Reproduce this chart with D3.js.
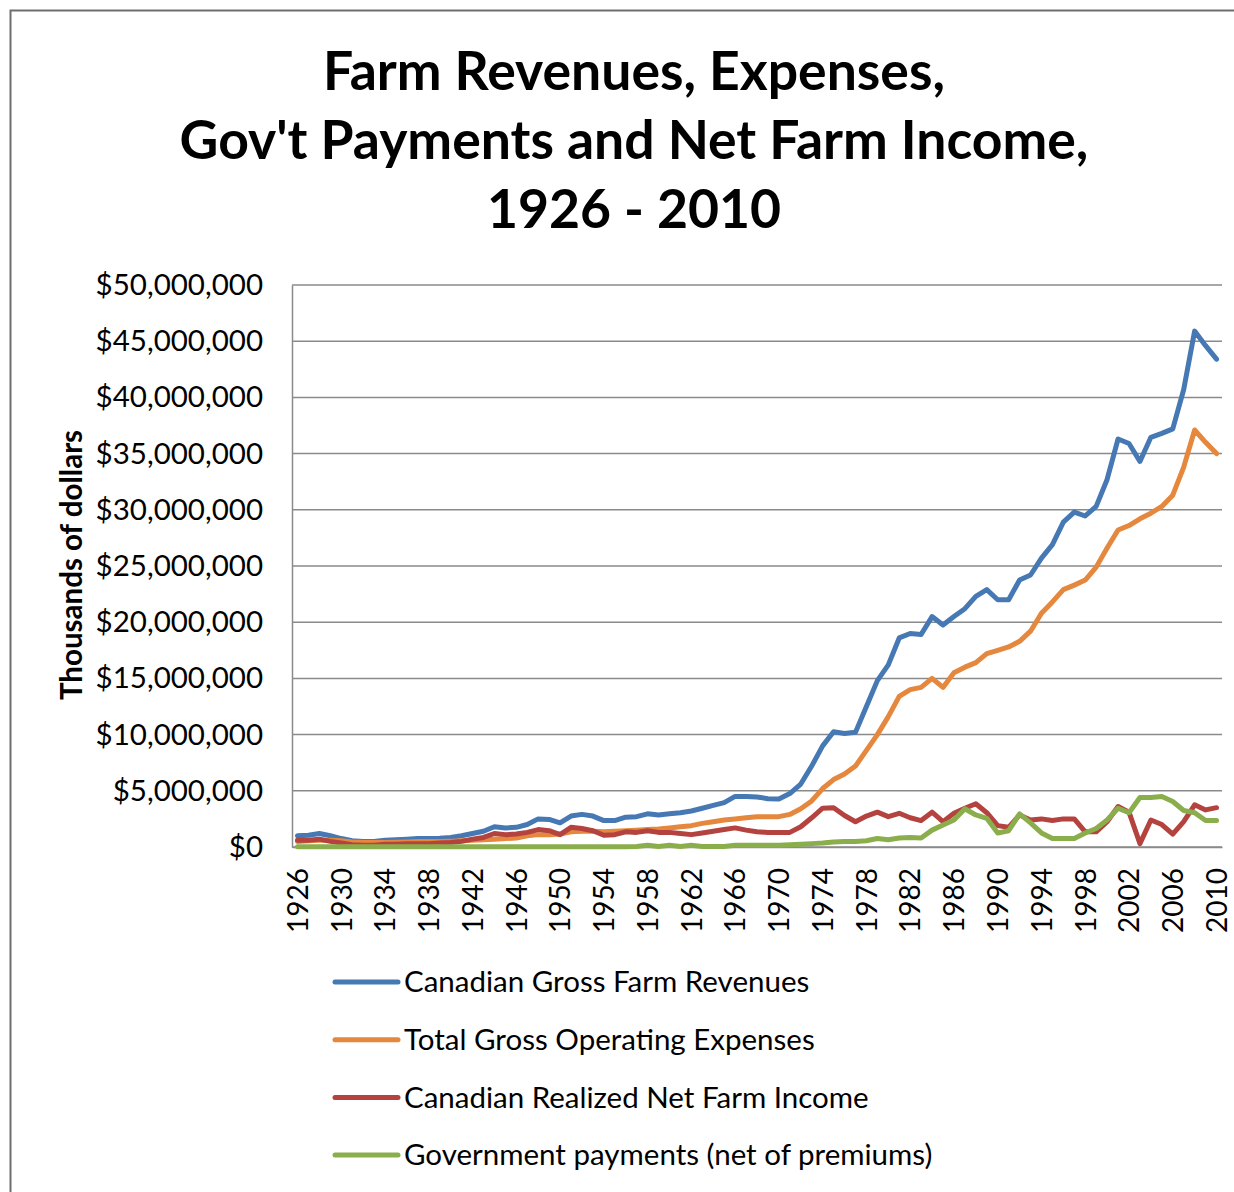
<!DOCTYPE html>
<html>
<head>
<meta charset="utf-8">
<script src="https://cdn.jsdelivr.net/npm/d3@7"></script>
<style>
  html, body { margin: 0; padding: 0; background: #fff; }
  svg { display: block; }
  text { font-family: Lato, "Open Sans", sans-serif; fill: #000; }
</style>
</head>
<body>
<svg id="chart" width="1234" height="1192"></svg>
<script>
// Years 1926..2010
const years = d3.range(1926, 2011);

// Values in millions of "thousands of dollars" (i.e. 1.0 = $1,000,000 on the axis)
const grossRevenues = [
  1.0, 1.05, 1.2, 1.0, 0.75, 0.55, 0.5, 0.5, 0.6, 0.65,
  0.7, 0.75, 0.75, 0.78, 0.85, 1.0, 1.2, 1.4, 1.8, 1.7,
  1.75, 2.0, 2.5, 2.45, 2.15, 2.75, 2.9, 2.75, 2.35, 2.35,
  2.65, 2.7, 2.95, 2.85, 2.95, 3.05, 3.2, 3.45, 3.7, 3.95,
  4.5, 4.5, 4.45, 4.3, 4.27, 4.75, 5.6, 7.2, 9.0, 10.25,
  10.1, 10.2, 12.5, 14.8, 16.2, 18.6, 19.0, 18.9, 20.5, 19.75,
  20.5, 21.2, 22.3, 22.9, 22.0, 22.0, 23.75, 24.2, 25.7, 26.9,
  28.9, 29.8, 29.45, 30.3, 32.7, 36.3, 35.9, 34.3, 36.45, 36.8,
  37.2, 40.7, 45.9, 44.6, 43.4
];
const operatingExpenses = [
  0.5, 0.55, 0.6, 0.6, 0.55, 0.45, 0.4, 0.4, 0.4, 0.42,
  0.45, 0.5, 0.5, 0.5, 0.52, 0.55, 0.6, 0.65, 0.7, 0.75,
  0.8, 1.0, 1.1, 1.1, 1.15, 1.35, 1.4, 1.4, 1.35, 1.4,
  1.45, 1.5, 1.55, 1.6, 1.7, 1.8, 1.9, 2.1, 2.25, 2.4,
  2.5, 2.6, 2.7, 2.7, 2.7, 2.9, 3.4, 4.1, 5.2, 6.0,
  6.5, 7.2, 8.6, 10.0, 11.6, 13.4, 14.0, 14.2, 15.0, 14.2,
  15.5, 16.0, 16.4, 17.2, 17.5, 17.8, 18.3, 19.2, 20.8, 21.8,
  22.9, 23.3, 23.75, 24.9, 26.6, 28.2, 28.6, 29.2, 29.7, 30.3,
  31.3, 33.8, 37.1, 36.0, 35.0
];
const realizedNetIncome = [
  0.6, 0.6, 0.7, 0.5, 0.35, 0.2, 0.15, 0.15, 0.25, 0.25,
  0.3, 0.3, 0.3, 0.35, 0.4, 0.5, 0.7, 0.85, 1.2, 1.1,
  1.15, 1.3, 1.55, 1.45, 1.1, 1.75, 1.65, 1.45, 1.05, 1.1,
  1.35, 1.3, 1.45, 1.3, 1.3, 1.2, 1.1, 1.25, 1.4, 1.55,
  1.7, 1.5, 1.35, 1.3, 1.3, 1.3, 1.8, 2.6, 3.45, 3.5,
  2.8, 2.25, 2.75, 3.1, 2.7, 3.0, 2.6, 2.35, 3.1, 2.25,
  3.0, 3.45, 3.85, 3.05, 1.9, 1.75, 2.85, 2.4, 2.5, 2.35,
  2.5, 2.5, 1.35, 1.35, 2.25, 3.6, 3.1, 0.3, 2.4, 2.0,
  1.15, 2.25, 3.75, 3.3, 3.5
];
const govPayments = [
  0.02, 0.02, 0.02, 0.02, 0.02, 0.02, 0.02, 0.02, 0.02, 0.02,
  0.02, 0.02, 0.02, 0.02, 0.02, 0.02, 0.02, 0.02, 0.02, 0.02,
  0.02, 0.02, 0.02, 0.02, 0.02, 0.02, 0.02, 0.02, 0.02, 0.02,
  0.02, 0.05, 0.15, 0.05, 0.15, 0.05, 0.15, 0.05, 0.05, 0.05,
  0.15, 0.15, 0.15, 0.15, 0.15, 0.2, 0.25, 0.3, 0.35, 0.45,
  0.5, 0.5, 0.55, 0.75, 0.65, 0.8, 0.85, 0.8, 1.5, 1.95,
  2.4, 3.4, 2.85, 2.55, 1.25, 1.45, 2.95, 2.15, 1.25, 0.75,
  0.75, 0.75, 1.25, 1.65, 2.4, 3.45, 3.05, 4.4, 4.4, 4.5,
  4.05, 3.25, 3.05, 2.35, 2.35
];

const seriesNames = [
  "Canadian Gross Farm Revenues",
  "Total Gross Operating Expenses",
  "Canadian Realized Net Farm Income",
  "Government payments (net of premiums)"
];
const seriesValues = [grossRevenues, operatingExpenses, realizedNetIncome, govPayments];
const seriesColors = ["#4678b4", "#e5873c", "#b4433f", "#8bae4c"];

const yTicks = [0, 5, 10, 15, 20, 25, 30, 35, 40, 45, 50];
const xTickYears = years.filter(y => (y - 1926) % 4 === 0);
const titleLines = ["Farm Revenues, Expenses,", "Gov't Payments and Net Farm Income,", "1926 - 2010"];
const yAxisTitle = "Thousands of dollars";

const svg = d3.select("#chart");

// outer frame
svg.append("rect")
  .attr("x", 10.5).attr("y", 10.5)
  .attr("width", 1400).attr("height", 1400)
  .attr("fill", "#fff").attr("stroke", "#6e6e6e").attr("stroke-width", 2);

const pLeft = 292, pRight = 1222, pTop = 285, pBottom = 847;
const x = d3.scalePoint().domain(years).range([pLeft, pRight]).padding(0.5);
const y = d3.scaleLinear().domain([0, 50]).range([pBottom, pTop]);

// title
svg.append("g").selectAll("text").data(titleLines).join("text")
  .attr("x", 634).attr("y", (d, i) => 90 + i * 69)
  .attr("text-anchor", "middle")
  .style("font-size", "53.5px").style("font-weight", "bold")
  .text(d => d);

// gridlines
const fmt = v => "$" + d3.format(",")(Math.round(v * 1e6));
svg.append("g").selectAll("line").data(yTicks).join("line")
  .attr("x1", pLeft).attr("x2", pRight)
  .attr("y1", d => y(d)).attr("y2", d => y(d))
  .attr("stroke", "#8a8a8a").attr("stroke-width", 1.5);

// y axis
const yAxis = d3.axisLeft(y).tickValues(yTicks).tickSize(0).tickPadding(29).tickFormat(fmt);
const gy = svg.append("g").attr("transform", `translate(${pLeft},0)`).call(yAxis);
gy.select(".domain").attr("stroke", "#8a8a8a").attr("stroke-width", 1.5);
gy.selectAll("text").style("font-size", "29.5px").style("font-family", "Lato, sans-serif").attr("fill", "#000");

// x axis
const xAxis = d3.axisBottom(x).tickValues(xTickYears).tickSize(0).tickPadding(0);
const gx = svg.append("g").attr("transform", `translate(0,${pBottom})`).call(xAxis);
gx.select(".domain").attr("stroke", "#8a8a8a").attr("stroke-width", 1.5);
gx.selectAll("text")
  .style("font-size", "28px").style("font-family", "Lato, sans-serif").attr("fill", "#000")
  .attr("transform", "rotate(-90)")
  .attr("text-anchor", "end")
  .attr("x", -21).attr("y", 0).attr("dy", "0.35em");

// y axis title
svg.append("text")
  .attr("transform", "translate(82,565) rotate(-90)")
  .attr("text-anchor", "middle")
  .style("font-size", "29.5px").style("font-weight", "bold")
  .text(yAxisTitle);

// lines
const line = d3.line().x((d, i) => x(years[i])).y(d => y(d));
svg.append("g").selectAll("path").data(seriesValues).join("path")
  .attr("d", d => line(d))
  .attr("fill", "none")
  .attr("stroke", (d, i) => seriesColors[i])
  .attr("stroke-width", 5)
  .attr("stroke-linejoin", "round")
  .attr("stroke-linecap", "round");

// legend
const lg = svg.append("g").selectAll("g").data(seriesNames).join("g")
  .attr("transform", (d, i) => `translate(335,${982 + i * 57.7})`);
lg.append("line").attr("x1", 0).attr("x2", 63).attr("y1", 0).attr("y2", 0)
  .attr("stroke", (d, i) => seriesColors[i]).attr("stroke-width", 5).attr("stroke-linecap", "round");
lg.append("text").attr("x", 69).attr("y", 0).attr("dy", "0.35em")
  .style("font-size", "29.5px").text(d => d);
</script>
</body>
</html>
